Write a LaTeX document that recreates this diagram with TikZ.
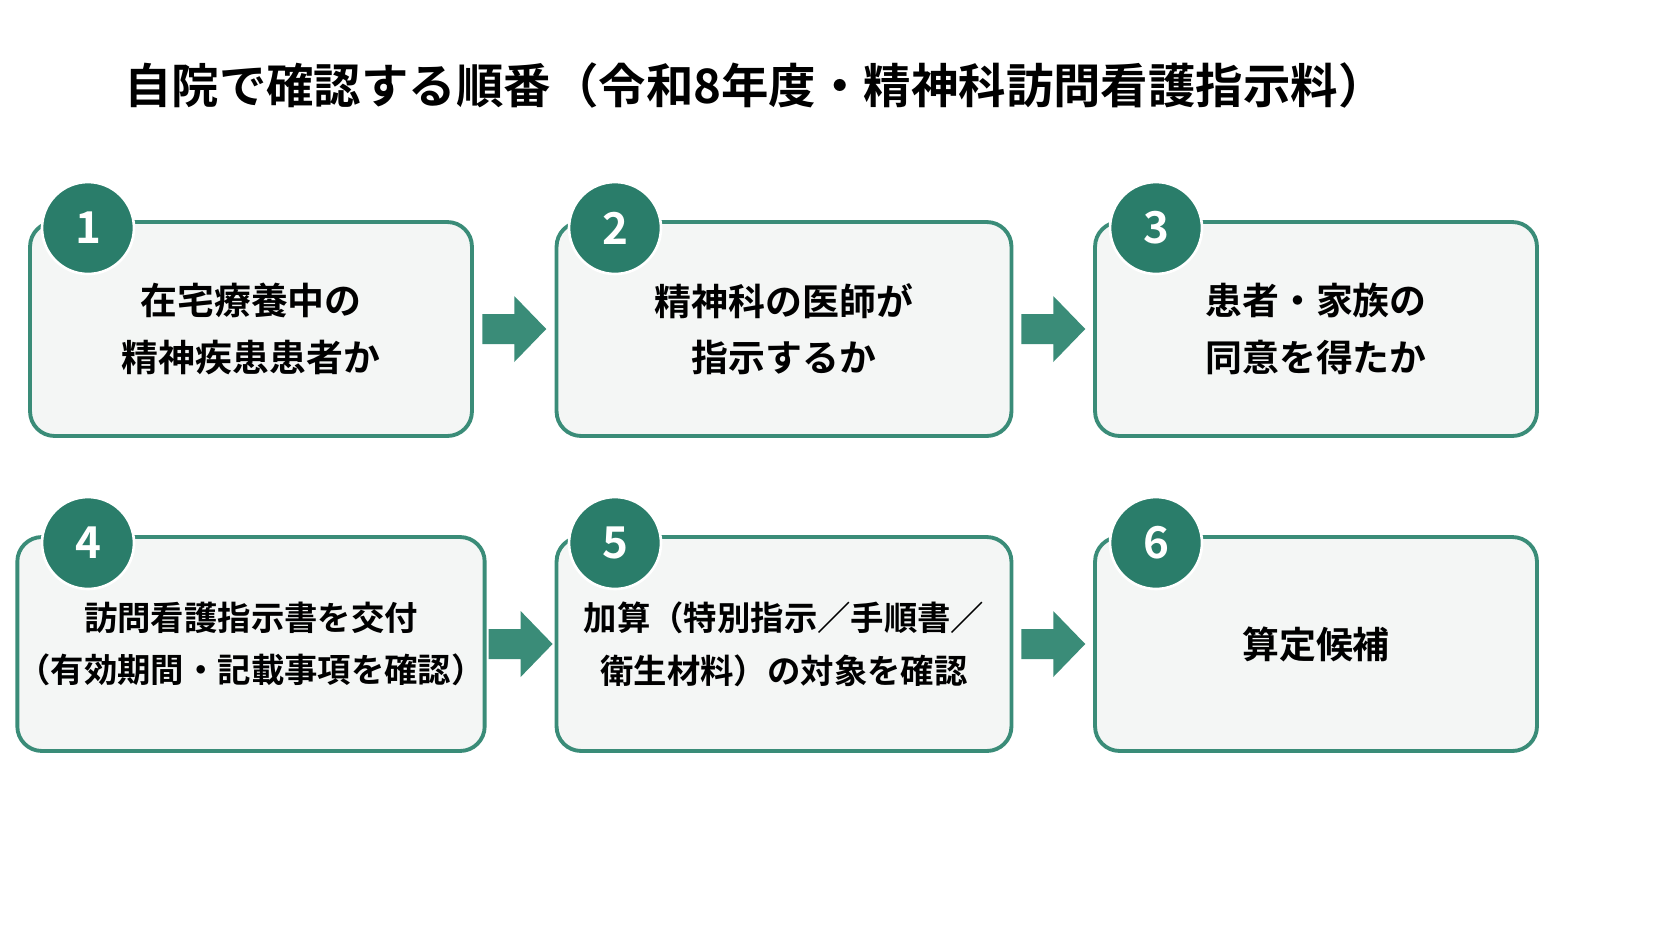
\documentclass[tikz,border=0pt]{standalone}
\usepackage{fontspec}
\setmainfont{Noto Sans CJK JP}[BoldFont={* Bold}]
\usepackage{tikz}
\usetikzlibrary{calc}
\definecolor{TealLine}{HTML}{3A8C78}
\definecolor{TealDark}{HTML}{2A7D6A}
\definecolor{BoxFill}{HTML}{F4F6F5}

\tikzset{
  stepbox/.style={draw=TealLine, line width=2.2pt, fill=BoxFill, rounded corners=14pt,
    minimum width=8.84cm, minimum height=4.28cm, inner sep=0pt, align=center,
    font=\bfseries\fontsize{21}{32}\selectfont},
  badge/.style={circle, fill=TealDark, draw=white, line width=1.5pt, minimum size=1.84cm,
    text=white, font=\bfseries\fontsize{25}{25}\selectfont}
}

\begin{document}
\begin{tikzpicture}[x=0.02cm, y=-0.02cm]
  \useasboundingbox[fill=white] (0,0) rectangle (1672,941);
  \node [font=\bfseries\fontsize{27}{27}\selectfont, anchor=west] (title) at (118,85)
    {自院で確認する順番（令和8年度・精神科訪問看護指示料）};

  \node [stepbox] (s1) at (251,329) {在宅療養中の\\精神疾患患者か};
  \node [stepbox, minimum width=9.1cm] (s2) at (784,329) {精神科の医師が\\指示するか};
  \node [stepbox] (s3) at (1316,329) {患者・家族の\\同意を得たか};
  \node [stepbox, font=\bfseries\fontsize{19}{30}\selectfont] (s4) at (251,644)
    {訪問看護指示書を交付\\（有効期間・記載事項を確認）};
  \node [stepbox, minimum width=9.1cm, font=\bfseries\fontsize{19}{30}\selectfont] (s5) at (784,644)
    {加算（特別指示／手順書／\\衛生材料）の対象を確認};
  \node [stepbox] (s6) at (1316,644) {算定候補};

  \node [badge] (b1) at (88,228) {1};
  \node [badge] (b2) at (615,228) {2};
  \node [badge] (b3) at (1156,228) {3};
  \node [badge] (b4) at (88,543) {4};
  \node [badge] (b5) at (615,543) {5};
  \node [badge] (b6) at (1156,543) {6};

  % block arrows between steps
  \foreach \a/\b in {s1/s2, s2/s3, s4/s5, s5/s6} {
    \coordinate (m) at ($(\a.east)!0.5!(\b.west)$);
    \fill [TealLine] ([shift={(-32,-15)}]m) -- ([shift={(0,-15)}]m) -- ([shift={(0,-33)}]m)
      -- ([shift={(32,0)}]m) -- ([shift={(0,33)}]m) -- ([shift={(0,15)}]m)
      -- ([shift={(-32,15)}]m) -- cycle;
  }
\end{tikzpicture}
\end{document}
